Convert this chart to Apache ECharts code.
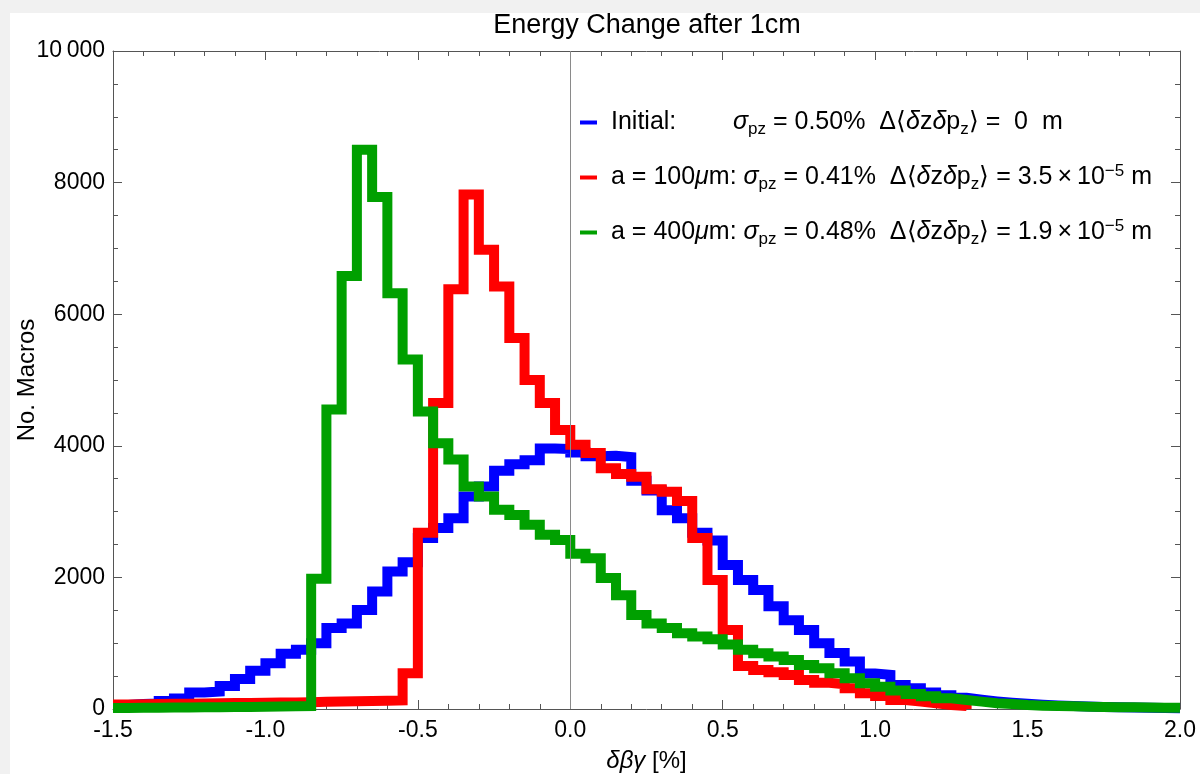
<!DOCTYPE html>
<html>
<head>
<meta charset="utf-8">
<script src="https://cdn.jsdelivr.net/npm/echarts@6/dist/echarts.min.js"></script>
<style>
html,body{margin:0;padding:0;background:#fff;}
#chart{width:1200px;height:774px;}
</style>
</head>
<body>
<div id="chart"></div>
<script>
// Left edges of the 0.05-wide histogram bins
const binStarts = [
  -1.50,-1.45,-1.40,-1.35,-1.30,-1.25,-1.20,-1.15,-1.10,-1.05,
  -1.00,-0.95,-0.90,-0.85,-0.80,-0.75,-0.70,-0.65,-0.60,-0.55,
  -0.50,-0.45,-0.40,-0.35,-0.30,-0.25,-0.20,-0.15,-0.10,-0.05,
   0.00, 0.05, 0.10, 0.15, 0.20, 0.25, 0.30, 0.35, 0.40, 0.45,
   0.50, 0.55, 0.60, 0.65, 0.70, 0.75, 0.80, 0.85, 0.90, 0.95,
   1.00, 1.05, 1.10, 1.15, 1.20, 1.25, 1.30, 1.35, 1.40, 1.45,
   1.50, 1.55, 1.60, 1.65, 1.70, 1.75, 1.80, 1.85, 1.90, 1.95
];
const rangeEnd = 2.0;
const a100End = 1.30;

// Initial (blue)
const initialCounts = [
  60, 75, 85, 120, 160, 250, 265, 350, 455, 580,
  695, 840, 900, 1000, 1230, 1300, 1505, 1785, 2090, 2230,
  2600, 2750, 2900, 3230, 3380, 3620, 3720, 3780, 3960, 3950,
  3900, 3840, 3850, 3830, 3470, 3320, 3020, 2900, 2680, 2560,
  2190, 1960, 1810, 1560, 1350, 1200, 1000, 850, 720, 540,
  520, 365, 315, 250, 210, 170, 140, 115, 95, 80,
  65, 55, 45, 38, 32, 27, 22, 18, 15, 12
];
// a = 100 µm (red), bins up to 1.3
const a100Counts = [
  70, 72, 75, 78, 80, 83, 86, 90, 92, 95,
  98, 100, 104, 110, 114, 118, 122, 126, 130, 545,
  2680, 4650, 6380, 7820, 6980, 6420, 5640, 5000, 4650, 4240,
  4015, 3890, 3660, 3570, 3530, 3340, 3300, 3160, 2600, 1960,
  1200, 654, 593, 558, 517, 441, 400, 375, 314, 238,
  198, 137, 112, 86, 60, 45
];
// a = 400 µm (green)
const a400Counts = [
  15, 18, 20, 22, 24, 26, 28, 30, 32, 35,
  38, 40, 45, 1980, 4550, 6580, 8500, 7780, 6320, 5310,
  4520, 4040, 3790, 3380, 3230, 3030, 2950, 2800, 2650, 2570,
  2360, 2290, 1990, 1730, 1430, 1300, 1230, 1150, 1100, 1060,
  980, 900, 847, 796, 745, 670, 618, 542, 466, 390,
  340, 280, 228, 193, 162, 137, 112, 86, 76, 60,
  50, 45, 40, 36, 32, 28, 25, 22, 20, 18
];
const seriesNames = ['Initial', 'a = 100μm', 'a = 400μm'];

function stepData(counts, endX, dropToZero) {
  const d = counts.map((c, i) => [binStarts[i], c]);
  d.push([endX, counts[counts.length - 1]]);
  if (dropToZero) d.push([endX, 0]);
  return d;
}

const FONT = "'Liberation Sans', Arial, sans-serif";
const frameColor = '#555';

const legendText = {
  'Initial': '{lab|Initial:}{it|σ}{sub|pz}{t| = 0.50%  Δ⟨}{it|δ}{t|z}{it|δ}{t|p}{sub|z}{t|⟩ =  0  m}',
  'a = 100μm': '{p|a = 100}{it|μ}{t|m: }{it|σ}{sub|pz}{t| = 0.41%  Δ⟨}{it|δ}{t|z}{it|δ}{t|p}{sub|z}{t|⟩ = 3.5\u2009×\u200910}{sup|−5}{t| m}',
  'a = 400μm': '{p|a = 400}{it|μ}{t|m: }{it|σ}{sub|pz}{t| = 0.48%  Δ⟨}{it|δ}{t|z}{it|δ}{t|p}{sub|z}{t|⟩ = 1.9\u2009×\u200910}{sup|−5}{t| m}'
};

const chart = echarts.init(document.getElementById('chart'), null, {renderer: 'canvas'});

const baseX = {
  type: 'value', min: -1.5, max: 2.0, interval: 0.5,
  axisLine: {show: true, onZero: false, lineStyle: {color: frameColor, width: 1}},
  axisTick: {show: true, inside: true, length: 9, lineStyle: {color: frameColor}},
  minorTick: {show: true, splitNumber: 5, length: 5, lineStyle: {color: frameColor}},
  splitLine: {show: false}, minorSplitLine: {show: false}
};
const baseY = {
  type: 'value', min: 0, max: 10000, interval: 2000,
  axisLine: {show: true, onZero: false, lineStyle: {color: frameColor, width: 1}},
  axisTick: {show: true, inside: true, length: 9, lineStyle: {color: frameColor}},
  minorTick: {show: true, splitNumber: 4, length: 5, lineStyle: {color: frameColor}},
  splitLine: {show: false}, minorSplitLine: {show: false}
};

const option = {
  backgroundColor: '#ffffff',
  animation: false,
  textStyle: {fontFamily: FONT},
  title: {
    text: 'Energy Change after 1cm',
    left: 642, top: 7, textAlign: 'center',
    textStyle: {fontFamily: FONT, fontSize: 27, fontWeight: 'normal', color: '#000'}
  },
  graphic: [
    {type: 'rect', left: 0, top: 0, shape: {width: 10, height: 774}, style: {fill: '#f1f1f1'}, silent: true},
    {type: 'rect', left: 0, top: 0, shape: {width: 1200, height: 13}, style: {fill: '#f1f1f1'}, silent: true}
  ],
  grid: {left: 113, right: 20, top: 51, bottom: 65, containLabel: false, outerBoundsMode: 'none'},
  legend: {
    data: seriesNames,
    orient: 'vertical',
    left: 580, top: 110,
    padding: 0,
    itemGap: 25,
    itemWidth: 17, itemHeight: 4,
    icon: 'rect',
    selectedMode: false,
    itemStyle: {borderWidth: 0},
    formatter: name => legendText[name],
    textStyle: {
      fontFamily: FONT, fontSize: 25, color: '#000',
      rich: {
        t: {fontFamily: FONT, fontSize: 25, color: '#000', lineHeight: 30},
        p: {fontFamily: FONT, fontSize: 25, color: '#000', lineHeight: 30, padding: [0, 0, 0, 9]},
        lab: {fontFamily: FONT, fontSize: 25, color: '#000', lineHeight: 30, width: 122, padding: [0, 0, 0, 9]},
        it: {fontFamily: FONT, fontSize: 25, fontStyle: 'italic', color: '#000', lineHeight: 30},
        sub: {fontFamily: FONT, fontSize: 17, color: '#000', verticalAlign: 'bottom'},
        sup: {fontFamily: FONT, fontSize: 17, color: '#000', verticalAlign: 'top'}
      }
    }
  },
  xAxis: [
    Object.assign({}, baseX, {
      position: 'bottom',
      name: '{i|δβγ} [%]', nameLocation: 'middle', nameGap: 40, nameMoveOverlap: false,
      nameTextStyle: {fontFamily: FONT, fontSize: 24, color: '#000',
        rich: {i: {fontFamily: FONT, fontSize: 24, fontStyle: 'italic', color: '#000'}}},
      axisLabel: {show: true, fontFamily: FONT, fontSize: 23, color: '#000', margin: 10,
        formatter: v => v.toFixed(1)}
    }),
    Object.assign({}, baseX, {position: 'top', axisLabel: {show: false}})
  ],
  yAxis: [
    Object.assign({}, baseY, {
      position: 'left',
      name: 'No. Macros', nameLocation: 'middle', nameGap: 74, nameRotate: 90, nameMoveOverlap: false,
      nameTextStyle: {fontFamily: FONT, fontSize: 24, color: '#000'},
      axisLabel: {show: true, fontFamily: FONT, fontSize: 23, color: '#000', margin: 8,
        formatter: v => v >= 10000 ? '10\u2009000' : String(v)}
    }),
    Object.assign({}, baseY, {position: 'right', axisLabel: {show: false}})
  ],
  series: [
    {
      name: seriesNames[0], type: 'line', step: 'end', showSymbol: false, symbol: 'none',
      xAxisIndex: 0, yAxisIndex: 0, clip: true,
      data: stepData(initialCounts, rangeEnd, false),
      itemStyle: {color: '#0000ff'},
      lineStyle: {color: '#0000ff', width: 10, join: 'miter', cap: 'butt'}
    },
    {
      name: seriesNames[1], type: 'line', step: 'end', showSymbol: false, symbol: 'none',
      xAxisIndex: 0, yAxisIndex: 0, clip: true,
      data: stepData(a100Counts, a100End, true),
      itemStyle: {color: '#ff0000'},
      lineStyle: {color: '#ff0000', width: 10, join: 'miter', cap: 'butt'}
    },
    {
      name: seriesNames[2], type: 'line', step: 'end', showSymbol: false, symbol: 'none',
      xAxisIndex: 0, yAxisIndex: 0, clip: true,
      data: stepData(a400Counts, rangeEnd, false),
      itemStyle: {color: '#00a000'},
      lineStyle: {color: '#00a000', width: 10, join: 'miter', cap: 'butt'},
      markLine: {
        silent: true, symbol: 'none', animation: false,
        label: {show: false},
        lineStyle: {color: '#8a8a8a', width: 1, type: 'solid'},
        data: [{xAxis: 0}]
      }
    }
  ]
};
chart.setOption(option);
</script>
</body>
</html>
